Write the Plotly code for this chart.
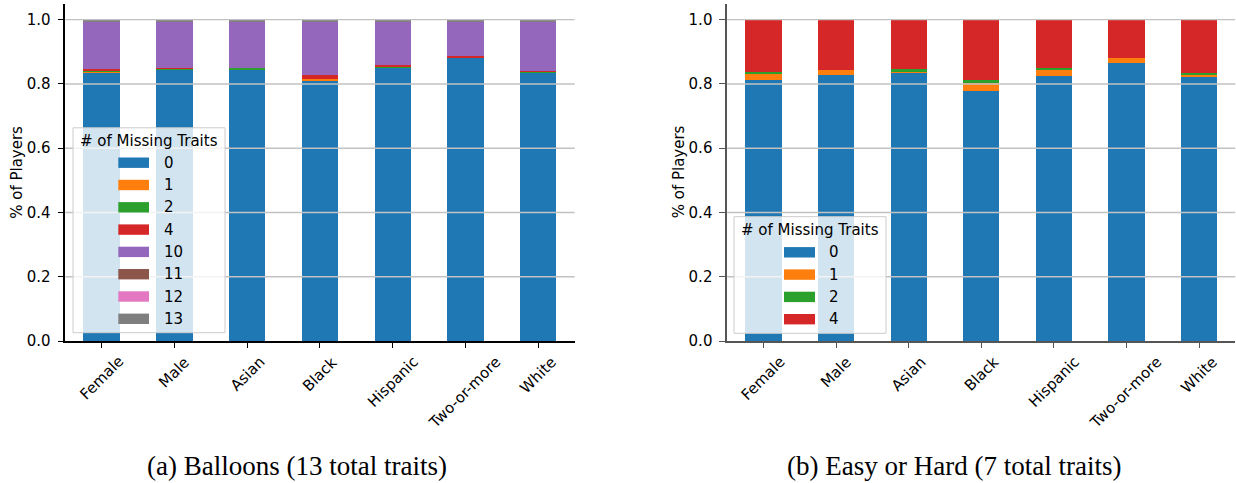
import plotly.graph_objects as go

W, H = 1236, 483

groups = ["Female", "Male", "Asian", "Black", "Hispanic", "Two-or-more", "White"]

# Balloons: share of players by number of missing traits
balloons_levels = ["0", "1", "2", "4", "10", "11", "12", "13"]
balloons_0 = [0.838, 0.846, 0.846, 0.8125, 0.852, 0.883, 0.8375]
balloons_1 = [0.003, 0.000, 0.000, 0.003, 0.000, 0.000, 0.000]
balloons_2 = [0.001, 0.003, 0.003, 0.000, 0.003, 0.000, 0.003]
balloons_4 = [0.005, 0.001, 0.000, 0.011, 0.003, 0.004, 0.0005]
balloons_10 = [0.150, 0.147, 0.146, 0.168, 0.139, 0.110, 0.156]
balloons_11 = [0.000, 0.000, 0.002, 0.000, 0.000, 0.000, 0.000]
balloons_12 = [0.000, 0.000, 0.000, 0.000, 0.000, 0.000, 0.000]
balloons_13 = [0.003, 0.003, 0.003, 0.0055, 0.003, 0.003, 0.0035]

# Easy or Hard: share of players by number of missing traits
easyhard_levels = ["0", "1", "2", "4"]
easyhard_0 = [0.8125, 0.827, 0.833, 0.777, 0.824, 0.8646, 0.821]
easyhard_1 = [0.018, 0.016, 0.008, 0.029, 0.019, 0.016, 0.009]
easyhard_2 = [0.007, 0.000, 0.004, 0.006, 0.007, 0.000, 0.004]
easyhard_4 = [0.1625, 0.157, 0.155, 0.188, 0.150, 0.1194, 0.166]

y_ticks = [0.0, 0.2, 0.4, 0.6, 0.8, 1.0]
captions = ["(a) Balloons (13 total traits)", "(b) Easy or Hard (7 total traits)"]
legend_title = "# of Missing Traits"
y_title = "% of Players"

palette = ["#1f77b4", "#ff7f0e", "#2ca02c", "#d62728",
           "#9467bd", "#8c564b", "#e377c2", "#7f7f7f"]

balloons_series = [balloons_0, balloons_1, balloons_2, balloons_4,
                   balloons_10, balloons_11, balloons_12, balloons_13]
easyhard_series = [easyhard_0, easyhard_1, easyhard_2, easyhard_4]

FONT = "DejaVu Sans"
FS = 15


def px_x(p):
    return p / W


def px_y(p):
    return 1 - p / H


fig = go.Figure()

for vals, color in zip(balloons_series, palette):
    fig.add_trace(go.Bar(x=groups, y=vals, marker=dict(color=color, line=dict(width=0)),
                         xaxis="x", yaxis="y", showlegend=False))
for vals, color in zip(easyhard_series, palette):
    fig.add_trace(go.Bar(x=groups, y=vals, marker=dict(color=color, line=dict(width=0)),
                         xaxis="x2", yaxis="y2", showlegend=False))

y_dom = [px_y(341), px_y(3.6)]
panels = [
    dict(x="x", y="y", dom=[px_x(65.3), px_x(574.6)], axcol="#000000", title_x=17.5),
    dict(x="x2", y="y2", dom=[px_x(727.2), px_x(1235.3)], axcol="#555555", title_x=679),
]

shapes = []
annotations = []

for i, p in enumerate(panels):
    xa = dict(domain=p["dom"], anchor=p["y"], type="category", automargin=False,
              categoryorder="array", categoryarray=groups,
              range=[-0.5, len(groups) - 0.5], showgrid=False, zeroline=False,
              showline=True, linecolor=p["axcol"], linewidth=1.5,
              ticks="outside", ticklen=5, tickwidth=1.3, tickcolor=p["axcol"],
              showticklabels=False)
    ya = dict(domain=y_dom, anchor=p["x"], range=[0, 1.05], automargin=False,
              tickmode="array", tickvals=y_ticks,
              ticktext=[f"{v:.1f}" for v in y_ticks],
              showgrid=False, zeroline=False,
              showline=True, linecolor=p["axcol"], linewidth=1.5,
              ticks="outside", ticklen=6, tickwidth=1.3, tickcolor=p["axcol"],
              ticklabelstandoff=4,
              tickfont=dict(family=FONT, size=FS, color="black"))
    key = "" if i == 0 else "2"
    fig.layout["xaxis" + key] = xa
    fig.layout["yaxis" + key] = ya

    # y-axis title, centred on the plotting area
    annotations.append(dict(x=px_x(p["title_x"]), y=(y_dom[0] + y_dom[1]) / 2,
                            xref="paper", yref="paper", text=y_title,
                            textangle=-90, showarrow=False,
                            xanchor="center", yanchor="middle",
                            font=dict(family=FONT, size=FS, color="black")))

    # horizontal grid drawn over the bars
    for v in y_ticks[1:]:
        shapes.append(dict(type="line", xref=p["x"] + " domain", yref=p["y"],
                           x0=0, x1=1, y0=v, y1=v, layer="above",
                           line=dict(color="#c2c2c2", width=1.4)))

    # rotated category labels centred under each tick
    for g in groups:
        annotations.append(dict(x=g, xref=p["x"], y=y_dom[0], yref="paper",
                                text=g, textangle=-45, showarrow=False,
                                xanchor="center", yanchor="top", yshift=-9,
                                font=dict(family=FONT, size=FS, color="black")))

# legends
legend_specs = [
    dict(box=(73, 127.8, 225, 332.7), title_y=140.7, first=162.7, step=22.3,
         sw=(118.3, 149), lab=161.7, levels=balloons_levels),
    dict(box=(734, 216.7, 886, 333.3), title_y=230, first=252.3, step=22.3,
         sw=(784, 815), lab=826.7, levels=easyhard_levels),
]
for spec in legend_specs:
    x0, y0, x1, y1 = spec["box"]
    shapes.append(dict(type="rect", xref="paper", yref="paper",
                       x0=px_x(x0), x1=px_x(x1), y0=px_y(y1), y1=px_y(y0),
                       layer="above", fillcolor="rgba(255,255,255,0.8)",
                       line=dict(color="#cccccc", width=1)))
    annotations.append(dict(x=px_x((x0 + x1) / 2), y=px_y(spec["title_y"]),
                            xref="paper", yref="paper", text=legend_title,
                            showarrow=False, xanchor="center", yanchor="middle",
                            font=dict(family=FONT, size=FS, color="black")))
    for k, (lvl, color) in enumerate(zip(spec["levels"], palette)):
        cy = spec["first"] + k * spec["step"]
        shapes.append(dict(type="rect", xref="paper", yref="paper",
                           x0=px_x(spec["sw"][0]), x1=px_x(spec["sw"][1]),
                           y0=px_y(cy + 5.2), y1=px_y(cy - 5.2),
                           layer="above", fillcolor=color, line=dict(width=0)))
        annotations.append(dict(x=px_x(spec["lab"]), y=px_y(cy), xref="paper",
                                yref="paper", text=lvl, showarrow=False,
                                xanchor="left", yanchor="middle",
                                font=dict(family=FONT, size=FS, color="black")))

# captions
for cx, txt in zip([296.5, 953.5], captions):
    annotations.append(dict(x=px_x(cx), y=px_y(466), xref="paper", yref="paper",
                            text=txt, showarrow=False, xanchor="center",
                            yanchor="middle",
                            font=dict(family="Liberation Serif", size=27,
                                      color="black")))

fig.update_layout(
    width=W, height=H, autosize=False,
    margin=dict(l=0, r=0, t=0, b=0, autoexpand=False),
    barmode="stack", bargap=0.5,
    plot_bgcolor="white", paper_bgcolor="white",
    shapes=shapes, annotations=annotations,
    font=dict(family=FONT, size=FS, color="black"),
)

fig.write_html("out.html")
